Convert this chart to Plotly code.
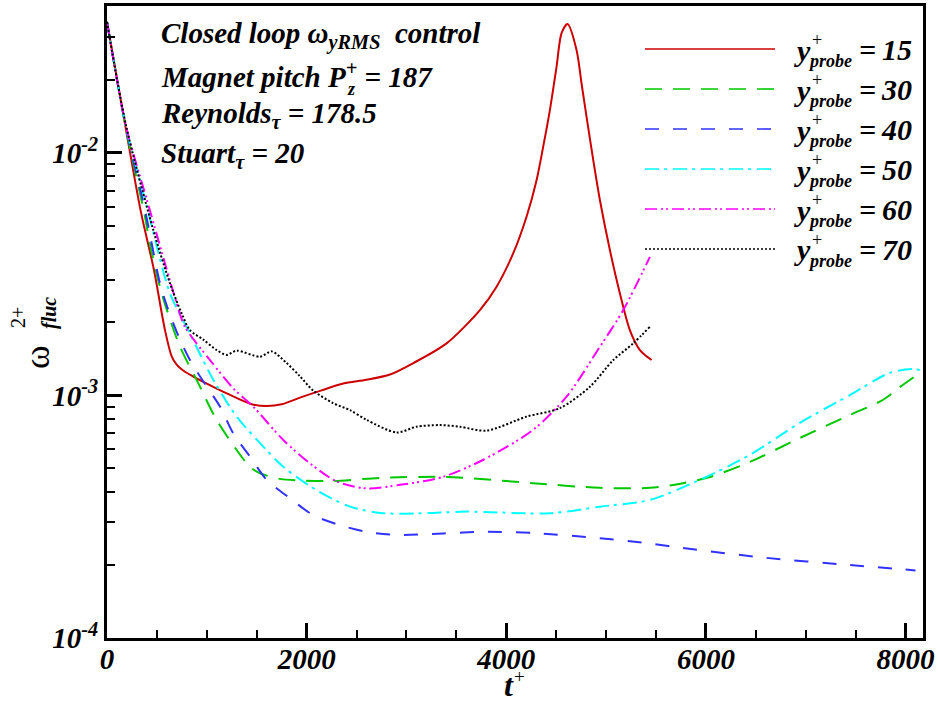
import plotly.graph_objects as go

# ---------------- data ----------------
t_15 = [0, 190, 340, 470, 581, 648, 698, 760, 860, 1000, 1200, 1450, 1600, 1750, 1933, 2150, 2367,
        2600, 2835, 3068, 3402, 3736, 3903, 4070, 4203, 4304, 4370, 4437, 4504, 4554, 4614, 4704,
        4754, 4804, 4871, 4938, 5038, 5138, 5238, 5339, 5456]
w_15 = [0.0347, 0.0125, 0.0057, 0.0033, 0.00186, 0.00145, 0.00134, 0.00127, 0.0012, 0.00112, 0.00102,
        0.00092, 0.000905, 0.00092, 0.00098, 0.00105, 0.00112, 0.00116, 0.00122, 0.00136, 0.00164,
        0.00225, 0.00281, 0.00386, 0.00546, 0.00774, 0.01062, 0.01503, 0.0227, 0.0312, 0.034, 0.0266,
        0.01937, 0.01413, 0.00936, 0.0064, 0.00398, 0.00264, 0.00186, 0.00154, 0.0014]

t_30 = [0, 190, 381, 431, 548, 731, 898, 1098, 1299, 1432, 1533, 1733, 1966, 2267, 2768, 3368, 3603,
        4268, 4938, 5439, 5770, 6040, 6440, 6941, 7442, 7772, 7943, 8160]
w_30 = [0.0347, 0.0126, 0.00546, 0.00418, 0.00264, 0.00159, 0.00116, 0.000793, 0.000596, 0.000508,
        0.000478, 0.000453, 0.000446, 0.000444, 0.000458, 0.000462, 0.000457, 0.000435, 0.000416,
        0.000416, 0.000435, 0.000461, 0.000532, 0.000668, 0.000831, 0.000958, 0.001083, 0.001253]

t_40 = [0, 190, 381, 531, 614, 731, 848, 998, 1132, 1265, 1432, 1600, 1833, 2066, 2334, 2601, 2902,
        3368, 3766, 4268, 4938, 5406, 5770, 6607, 7442, 8100]
w_40 = [0.0347, 0.0127, 0.0058, 0.0029, 0.00225, 0.0017, 0.00136, 0.00109, 0.0009, 0.000698, 0.00056,
        0.000449, 0.000377, 0.000321, 0.000292, 0.000274, 0.000266, 0.00027, 0.000274, 0.000271,
        0.000258, 0.000246, 0.000235, 0.000214, 0.0002, 0.00019]

t_50 = [0, 190, 400, 631, 831, 1065, 1299, 1533, 1766, 2100, 2434, 2768, 3268, 3603, 4437, 4938, 5439,
        5940, 6440, 6941, 7442, 7843, 8073, 8160]
w_50 = [0.0347, 0.0128, 0.006, 0.00264, 0.0018, 0.00116, 0.000818, 0.000636, 0.000508, 0.000407,
        0.000348, 0.000327, 0.000328, 0.000332, 0.000327, 0.000348, 0.000371, 0.000449, 0.000569,
        0.000771, 0.001004, 0.00124, 0.001285, 0.00127]

t_60 = [0, 190, 400, 698, 781, 1032, 1265, 1465, 1766, 2033, 2301, 2601, 2935, 3368, 3766, 4268, 4604,
        4938, 5172, 5439]
w_60 = [0.0347, 0.0129, 0.0064, 0.0024, 0.00192, 0.0014, 0.00107, 0.0009, 0.000655, 0.000525, 0.000442,
        0.000414, 0.000428, 0.000462, 0.000542, 0.000721, 0.000989, 0.001588, 0.00225, 0.00373]

t_70 = [0, 190, 464, 631, 748, 831, 964, 1098, 1199, 1299, 1533, 1650, 1800, 1933, 2063, 2264, 2434,
        2601, 2902, 3100, 3335, 3536, 3803, 4203, 4538, 4838, 5072, 5272, 5439]
w_70 = [0.0347, 0.013, 0.00481, 0.0029, 0.00218, 0.00186, 0.0017, 0.00154, 0.00147, 0.00153, 0.001445,
        0.00152, 0.00136, 0.0012, 0.00105, 0.000931, 0.00087, 0.000793, 0.000704, 0.000743, 0.000755,
        0.000743, 0.000716, 0.000818, 0.000887, 0.001086, 0.0014, 0.00164, 0.00192]

probe_labels = ["15", "30", "40", "50", "60", "70"]
x_ticks = [0, 2000, 4000, 6000, 8000]
x_ticktext = ["0", "2000", "4000", "6000", "8000"]
y_ticks = [1e-4, 1e-3, 1e-2]
y_ticktext = ["10<sup>-4</sup>", "10<sup>-3</sup>", "10<sup>-2</sup>"]
x_minor = [v for v in range(0, 8001, 500) if v % 2000 != 0]
y_minor = [m * 10.0 ** e for e in (-4, -3, -2) for m in range(2, 10) if m * 10.0 ** e < 0.035]

# ---------------- styling ----------------
series = [
    (t_15, w_15, "#CC0000", "solid"),
    (t_30, w_30, "#00C800", "17px,11px"),
    (t_40, w_40, "#3232FF", "14px,14px"),
    (t_50, w_50, "#00FFFF", "14px,5px,3px,6px"),
    (t_60, w_60, "#FF00FF", "12px,4px,2px,3px,2px,4px"),
    (t_70, w_70, "#000000", "2px,2px"),
]

FONT = "Liberation Serif"
W, H = 938, 701
L, R, T, B = 107, 923, 6, 638


def px(x):
    return (x - L) / (R - L)


def py(y):
    return (B - y) / (B - T)


fig = go.Figure()
for (t, w, col, dash), lab in zip(series, probe_labels):
    fig.add_trace(go.Scatter(x=t, y=w, mode="lines", name=lab,
                             line=dict(color=col, width=2, dash=dash, shape="spline", smoothing=0.8),
                             showlegend=False))

ann = []
shapes = []


def txt(x, y, s, size=29, weight="bold", style="italic", xanchor="left", angle=0):
    ann.append(dict(x=px(x), y=py(y), xref="paper", yref="paper", text=s, showarrow=False,
                    xanchor=xanchor, yanchor="middle", textangle=angle,
                    font=dict(family=FONT, size=size, color="black", weight=weight, style=style)))


# manual legend
row_y = [49, 89, 129, 169, 209, 249]
for (t, w, col, dash), lab, ry in zip(series, probe_labels, row_y):
    shapes.append(dict(type="line", xref="paper", yref="paper", x0=px(645), x1=px(775),
                       y0=py(ry), y1=py(ry), line=dict(color=col, width=1.6, dash=dash)))
    txt(792, ry + 1, "y", size=30)
    txt(810, ry - 9, "+", size=18, weight="normal", style="normal")
    txt(806, ry + 12, "probe", size=18)
    txt(857, ry, "=\u2009" + lab, size=30)

# info text
txt(159, 35, "Closed loop ω<sub>yRMS</sub>\u00a0\u00a0control")
txt(159, 75, "Magnet pitch P<sup>+</sup>\u00a0= 187")
txt(345, 89, "z", size=18)
txt(159, 115, "Reynolds<sub>τ</sub> = 178.5")
txt(159, 155, "Stuart<sub>τ</sub> = 20")

# axis titles
txt(37, 357, "ω", size=36, weight="normal", style="normal", xanchor="center", angle=-90)
txt(18, 318, "2+", size=20, weight="normal", style="normal", xanchor="center", angle=-90)
txt(49, 313, "fluc", size=20, xanchor="center", angle=-90)
txt(509, 685, "t", size=32, xanchor="center")
txt(519, 676, "+", size=19, weight="normal", style="normal", xanchor="center")

tickfont = dict(family=FONT, size=29, color="black", weight="bold", style="italic")

fig.update_layout(
    template="none",
    width=W, height=H,
    margin=dict(l=L, r=W - R, t=T, b=H - B, pad=0, autoexpand=False),
    paper_bgcolor="white", plot_bgcolor="white",
    showlegend=False,
    annotations=ann, shapes=shapes,
    xaxis=dict(range=[0, 8175], tickmode="array", tickvals=x_ticks, ticktext=x_ticktext,
               ticks="inside", ticklen=15, tickwidth=2.5, tickcolor="black", automargin=False,
               showline=True, linewidth=3, linecolor="black", mirror=True,
               showgrid=False, zeroline=False, tickfont=tickfont, ticklabelstandoff=-7,
               minor=dict(tickvals=x_minor, ticks="inside", ticklen=8, tickwidth=1.5,
                          tickcolor="black", showgrid=False)),
    yaxis=dict(type="log", range=[-4, -1.394], tickmode="array", tickvals=y_ticks, ticktext=y_ticktext,
               ticks="inside", ticklen=15, tickwidth=2.5, tickcolor="black", automargin=False,
               showline=True, linewidth=3, linecolor="black", mirror=True,
               showgrid=False, zeroline=False, tickfont=tickfont,
               minor=dict(tickvals=y_minor, ticks="inside", ticklen=8, tickwidth=1.5,
                          tickcolor="black", showgrid=False)),
)

fig.write_html("out.html", config={"displayModeBar": False},
               post_script="document.body.style.margin='0';document.body.style.padding='0';")
